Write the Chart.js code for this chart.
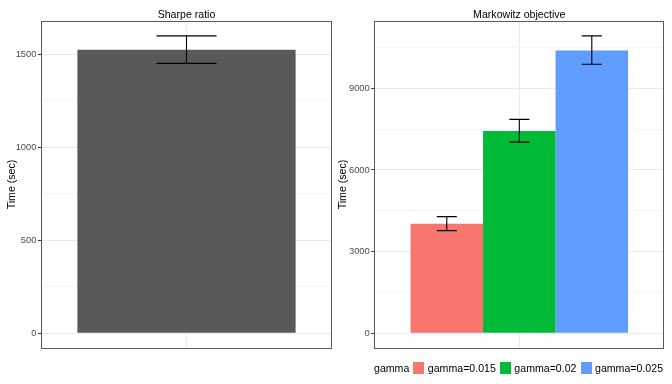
<!DOCTYPE html>
<html>
<head>
<meta charset="utf-8">
<script src="https://cdn.jsdelivr.net/npm/chart.js@4"></script>
<style>
  body { margin: 0; background: #fff; font-family: "Liberation Sans", Arial, sans-serif; }
  #wrap { position: relative; width: 672px; height: 384px; }
  .panel { position: absolute; top: 0; width: 336px; height: 384px; }
  #legend { position: absolute; left: 374px; top: 361px; display: flex; align-items: center;
            font-size: 10.6px; color: #000; height: 14px; }
  #legend .key { width: 11px; height: 12px; margin: 0 3.5px 0 4px; }
</style>
</head>
<body>
<div id="wrap">
  <div class="panel" style="left:0"><canvas id="sharpe" width="336" height="384"></canvas></div>
  <div class="panel" style="left:336px"><canvas id="markowitz" width="336" height="384"></canvas></div>
  <div id="legend"></div>
</div>
<script>
// Sharpe ratio panel
const sharpeMean = [1525];
const sharpeLo = [1452];
const sharpeHi = [1600];
const sharpeMajor = [0, 500, 1000, 1500];
const sharpeMinor = [250, 750, 1250];

// Markowitz objective panel
const gammaLabels = ['gamma=0.015', 'gamma=0.02', 'gamma=0.025'];
const gammaColors = ['#F8766D', '#00BA38', '#619CFF'];
const markMean = [4025, 7430, 10390];
const markLo = [3770, 7025, 9885];
const markHi = [4285, 7860, 10930];
const markMajor = [0, 3000, 6000, 9000];
const markMinor = [1500, 4500, 7500, 10500];

const FONT = '"Liberation Sans", Arial, sans-serif';

// ggplot-style 5% expansion of [0, max]
function expand(hi) {
    const pad = hi * 0.05;
    return { min: -pad, max: hi + pad };
}

const errorBars = {
    id: 'errorBars',
    afterDatasetsDraw(chart, args, opts) {
        const ctx = chart.ctx;
        const y = chart.scales.y;
        ctx.save();
        ctx.strokeStyle = '#000';
        ctx.lineWidth = 1.1;
        chart.data.datasets.forEach((ds, i) => {
            chart.getDatasetMeta(i).data.forEach((bar, j) => {
                const top = y.getPixelForValue(ds.hi[j]);
                const bot = y.getPixelForValue(ds.lo[j]);
                const x = bar.x;
                ctx.beginPath();
                ctx.moveTo(x, top); ctx.lineTo(x, bot);
                ctx.moveTo(x - opts.half, top); ctx.lineTo(x + opts.half, top);
                ctx.moveTo(x - opts.half, bot); ctx.lineTo(x + opts.half, bot);
                ctx.stroke();
            });
        });
        ctx.restore();
    }
};

const panelBorder = {
    id: 'panelBorder',
    afterDraw(chart) {
        const a = chart.chartArea;
        const ctx = chart.ctx;
        ctx.save();
        ctx.strokeStyle = '#5a5a5a';
        ctx.lineWidth = 1;
        ctx.strokeRect(Math.round(a.left) + 0.5, Math.round(a.top) + 0.5,
            Math.round(a.right - a.left) - 1, Math.round(a.bottom - a.top));
        ctx.restore();
    }
};

function makeChart(id, title, datasets, major, minor, range, yWidth, titlePad, padRight, catPct, barPct, half) {
    const all = major.concat(minor).sort((a, b) => a - b);
    return new Chart(document.getElementById(id), {
        type: 'bar',
        data: { labels: [''], datasets: datasets },
        options: {
            responsive: false,
            animation: false,
            events: [],
            layout: { padding: { left: 0, right: padRight, top: 0, bottom: 36 } },
            datasets: { bar: { categoryPercentage: catPct, barPercentage: barPct } },
            plugins: {
                legend: { display: false },
                tooltip: { enabled: false },
                title: {
                    display: true, text: title, fullSize: false, color: '#000',
                    font: { family: FONT, size: 10.6, weight: 'normal' },
                    padding: { top: 8.3, bottom: 0 }
                },
                errorBars: { half: half }
            },
            scales: {
                x: {
                    ticks: { display: false },
                    border: { display: false },
                    grid: { offset: false, color: '#EBEBEB', drawTicks: false },
                    afterFit: s => { s.height = 0; }
                },
                y: {
                    min: range.min, max: range.max,
                    afterBuildTicks: s => { s.ticks = all.map(v => ({ value: v })); },
                    ticks: {
                        callback: v => major.includes(v) ? String(v) : '',
                        color: '#4D4D4D', padding: 1.5,
                        font: { family: FONT, size: 9.4 }
                    },
                    border: { display: false },
                    grid: {
                        color: c => major.includes(c.tick.value) ? '#EBEBEB' : '#F5F5F5',
                        tickColor: c => major.includes(c.tick.value) ? '#333333' : 'rgba(0,0,0,0)',
                        tickLength: 3
                    },
                    title: {
                        display: true, text: 'Time (sec)', color: '#000',
                        font: { family: FONT, size: 10.6 },
                        padding: { top: titlePad, bottom: 0 }
                    },
                    afterFit: s => { s.width = yWidth; }
                }
            }
        },
        plugins: [errorBars, panelBorder]
    });
}

makeChart('sharpe', 'Sharpe ratio',
    [{ data: sharpeMean, lo: sharpeLo, hi: sharpeHi, backgroundColor: '#595959' }],
    sharpeMajor, sharpeMinor, expand(Math.max(...sharpeHi)), 41, 6, 4, 1, 0.75, 30);

makeChart('markowitz', 'Markowitz objective',
    gammaLabels.map((g, i) => ({
        label: g, data: [markMean[i]], lo: [markLo[i]], hi: [markHi[i]],
        backgroundColor: gammaColors[i]
    })),
    markMajor, markMinor, expand(Math.max(...markHi)), 38.3, 1, 7.7, 0.75, 1, 10);

// legend
const legend = document.getElementById('legend');
const head = document.createElement('span');
head.textContent = 'gamma';
legend.appendChild(head);
gammaLabels.forEach((g, i) => {
    const key = document.createElement('span');
    key.className = 'key';
    key.style.background = gammaColors[i];
    legend.appendChild(key);
    const t = document.createElement('span');
    t.textContent = g;
    legend.appendChild(t);
});
</script>
</body>
</html>
